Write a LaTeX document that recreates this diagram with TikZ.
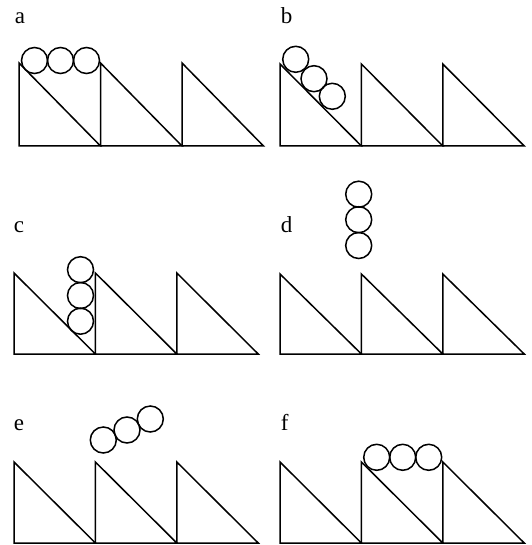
\documentclass[tikz,border=0pt]{standalone}
\usepackage{fontspec}
\setmainfont{Liberation Serif}
\begin{document}
\begin{tikzpicture}[x=1pt,y=-1pt,line width=1.5pt,
  tag/.style={anchor=base west,inner sep=0pt,font=\fontsize{23}{25}\selectfont}]
  \useasboundingbox (0,0) rectangle (531,545);
  % Panel a
  \node[tag] (lab-a) at (14,24) {a};
  \foreach \x in {19,100.5,182}
    \draw (\x,63) -- (\x,146) -- (\x+81.5,146) -- cycle;
  \foreach \x in {34.5,60.5,86.5}
    \draw (\x,60.5) circle (13);
  % Panel b
  \node[tag] (lab-b) at (280,24) {b};
  \foreach \x in {280,361.4,442.8}
    \draw (\x,64) -- (\x,146) -- (\x+81.4,146) -- cycle;
  \draw (295.7,59.3) circle (13);
  \draw (314,78.7) circle (13);
  \draw (332.3,96.3) circle (13);
  % Panel c
  \node[tag] (lab-c) at (13,232) {c};
  \foreach \x in {14,95.4,176.8}
    \draw (\x,273) -- (\x,354) -- (\x+81.4,354) -- cycle;
  \foreach \y in {269.7,295.5,321.2}
    \draw (80.5,\y) circle (13);
  % Panel d
  \node[tag] (lab-d) at (280,232) {d};
  \foreach \x in {280,361.4,442.8}
    \draw (\x,274) -- (\x,354) -- (\x+81.4,354) -- cycle;
  \foreach \y in {194.2,219.7,245.5}
    \draw (358.7,\y) circle (13);
  % Panel e
  \node[tag] (lab-e) at (13,430) {e};
  \foreach \x in {14,95.4,176.8}
    \draw (\x,462) -- (\x,543) -- (\x+81.4,543) -- cycle;
  \draw (103.3,440) circle (13);
  \draw (127,430) circle (13);
  \draw (150.3,419) circle (13);
  % Panel f
  \node[tag] (lab-f) at (280,430) {f};
  \foreach \x in {280,361.4,442.8}
    \draw (\x,462) -- (\x,543) -- (\x+81.4,543) -- cycle;
  \foreach \x in {376.7,402.7,428.7}
    \draw (\x,457.3) circle (13);
\end{tikzpicture}
\end{document}
